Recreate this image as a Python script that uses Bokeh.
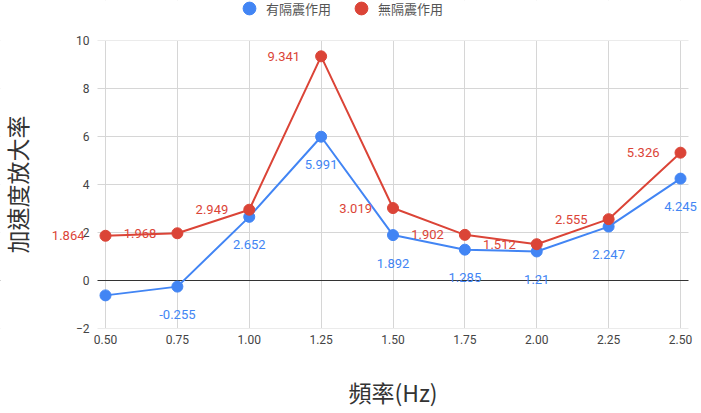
from bokeh.plotting import figure
from bokeh.models import (Range1d, Span, Legend, LegendItem, ColumnDataSource, FixedTicker,
                          PrintfTickFormatter, BoxAnnotation)
from bokeh.embed import file_html
from bokeh.resources import INLINE
from bokeh.core.properties import value

# ---- data ----
freq = [0.50, 0.75, 1.00, 1.25, 1.50, 1.75, 2.00, 2.25, 2.50]
with_iso = [-0.62, -0.255, 2.652, 5.991, 1.892, 1.285, 1.21, 2.247, 4.245]
without_iso = [1.864, 1.968, 2.949, 9.341, 3.019, 1.902, 1.512, 2.555, 5.326]
with_iso_label_shown = [False, True, True, True, True, True, True, True, True]
series_names = ["有隔震作用", "無隔震作用"]
x_title = "頻率(Hz)"
y_title = "加速度放大率"
x_ticks = freq
y_ticks = [-2, 0, 2, 4, 6, 8, 10]

BLUE = "#4285f4"
RED = "#db4437"
CJK = "Noto Sans CJK TC"
LATIN = "Roboto"

# the frame covers the whole page; the chart area is delimited with white masks
PX_PER_X = 287.5
PX_PER_Y = 24.0
X_LO = 0.5 - 8 / PX_PER_X
X_HI = 2.5 + 8 / PX_PER_X
Y_LO, Y_HI = -2, 10
x_range = Range1d(0.5 - 105 / PX_PER_X, 2.5 + 21 / PX_PER_X)
y_range = Range1d(Y_LO - 85 / PX_PER_Y, Y_HI + 40 / PX_PER_Y)

p = figure(width=701, height=413, output_backend="svg", toolbar_location=None,
           x_range=x_range, y_range=y_range)
p.min_border_left = 0
p.min_border_right = 0
p.min_border_top = 0
p.min_border_bottom = 0
p.outline_line_color = None
p.background_fill_color = "white"
p.border_fill_color = "white"

for ax in (p.xaxis, p.yaxis):
    ax.axis_line_color = None
    ax.major_tick_line_color = None
    ax.minor_tick_line_color = None
    ax.major_tick_out = 0
    ax.major_tick_in = 0
    ax.major_label_text_font = LATIN
    ax.major_label_text_font_size = "12px"
    ax.major_label_text_color = "#444444"
    ax.axis_label_text_font = CJK
    ax.axis_label_text_font_size = "23px"
    ax.axis_label_text_font_style = "normal"
    ax.axis_label_text_color = "#333333"

p.xaxis.ticker = FixedTicker(ticks=x_ticks)
p.xaxis.formatter = PrintfTickFormatter(format="%.2f")
p.xaxis.bounds = (X_LO, X_HI)
p.xaxis.fixed_location = Y_LO
p.yaxis.ticker = FixedTicker(ticks=y_ticks)
p.yaxis.fixed_location = X_LO
p.yaxis.bounds = (Y_LO, Y_HI)
p.xaxis.major_label_standoff = 6
p.yaxis.major_label_standoff = 8
p.xaxis.axis_label = x_title
p.yaxis.axis_label = y_title
p.xaxis.axis_label_standoff = 28
p.yaxis.axis_label_standoff = 39

p.xgrid.grid_line_color = "#d6d6d6"
p.ygrid.grid_line_color = "#d6d6d6"
p.xgrid.ticker = FixedTicker(ticks=x_ticks)
p.ygrid.ticker = FixedTicker(ticks=y_ticks)

p.add_layout(Span(location=0, dimension="width", line_color="#333333", line_width=1, level="underlay"))
for box in (BoxAnnotation(right=X_LO), BoxAnnotation(left=X_HI),
            BoxAnnotation(top=Y_LO), BoxAnnotation(bottom=Y_HI)):
    box.fill_color = "white"
    box.fill_alpha = 1
    box.line_alpha = 0
    box.level = "underlay"
    p.add_layout(box)

blue_src = ColumnDataSource(dict(x=freq, y=with_iso))
red_src = ColumnDataSource(dict(x=freq, y=without_iso))

p.line("x", "y", source=blue_src, line_color=BLUE, line_width=2)
p.line("x", "y", source=red_src, line_color=RED, line_width=2)
b_pts = p.scatter("x", "y", source=blue_src, size=11, fill_color=BLUE, line_color=BLUE)
r_pts = p.scatter("x", "y", source=red_src, size=11, fill_color=RED, line_color=RED)

bx = [x for x, s in zip(freq, with_iso_label_shown) if s]
by = [y for y, s in zip(with_iso, with_iso_label_shown) if s]
bl = [f"{y:g}" for y in by]
p.text(x=bx, y=by, text=bl, text_align="center", text_baseline="middle",
       y_offset=28, text_color=BLUE, text_font=value(LATIN), text_font_size="13px")
rl = [f"{y:g}" for y in without_iso]
p.text(x=freq, y=without_iso, text=rl, text_align="right", text_baseline="middle",
       x_offset=-21, text_color=RED, text_font=value(LATIN), text_font_size="13px")

legend = Legend(items=[LegendItem(label=series_names[0], renderers=[b_pts]),
                       LegendItem(label=series_names[1], renderers=[r_pts])],
                orientation="horizontal", location=(233, 413 - 24))
legend.label_text_font = CJK
legend.label_text_font_size = "13px"
legend.label_text_color = "#555555"
legend.border_line_color = None
legend.background_fill_alpha = 0
legend.glyph_width = 32
legend.glyph_height = 32
legend.label_standoff = 1
legend.spacing = 14
legend.padding = 0
legend.margin = 0
p.add_layout(legend)

open("out.html", "w").write(file_html(p, INLINE))
